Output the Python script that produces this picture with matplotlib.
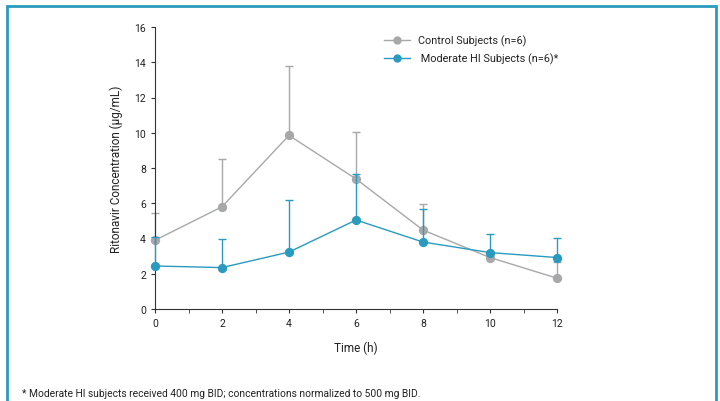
import numpy as np
import matplotlib.pyplot as plt
from matplotlib.patches import Rectangle
from matplotlib.lines import Line2D

plt.rcParams['font.family'] = ['Roboto', 'DejaVu Sans']

time = [0, 2, 4, 6, 8, 10, 12]
control = [3.9, 5.8, 9.85, 7.38, 4.48, 2.92, 1.75]
control_err = [1.55, 2.7, 3.95, 2.66, 1.45, 0.25, 0.92]
moderate = [2.44, 2.35, 3.23, 5.05, 3.8, 3.2, 2.92]
moderate_err = [1.65, 1.65, 2.98, 2.61, 1.9, 1.08, 1.11]

gray = "#a7a8aa"
teal = "#2a9bbf"

fig = plt.figure(figsize=(7.2, 4.02), dpi=100)
fig.patches.append(Rectangle((7/720, -0.01), 709/720, 1 - 7/402 + 0.01, transform=fig.transFigure,
                             fill=False, edgecolor=teal, linewidth=2))
ax = fig.add_axes([155/720, 1 - 310/402, 402/720, 282/402])

for y, err, c, z in [(control, control_err, gray, 2), (moderate, moderate_err, teal, 3)]:
    cont = ax.errorbar(time, y, yerr=[np.zeros(len(time)), err], color=c, lw=1,
                       marker="o", ms=5.7, capsize=3, elinewidth=1, capthick=1, zorder=z)
    for art in [cont.lines[0]] + list(cont.lines[1]) + list(cont.lines[2]):
        art.set_clip_on(False)

ax.set_xlim(0, 12)
ax.set_ylim(0, 16)
ax.set_xticks(range(0, 13, 2))
ax.set_xticks(range(1, 13, 2), minor=True)
ax.set_yticks(range(0, 17, 2))
ax.spines["top"].set_visible(False)
ax.spines["right"].set_visible(False)
ax.spines["left"].set_color("#333333")
ax.spines["bottom"].set_color("#333333")
ax.tick_params(labelsize=7.5, length=3, color="#333333", labelcolor="#222222")
ax.tick_params(which="minor", length=3, color="#333333")
ax.set_xlabel("Time (h)", fontsize=8.5, labelpad=9, color="#222222")
ax.set_ylabel("Ritonavir Concentration (µg/mL)", fontsize=8.5, labelpad=8, color="#222222")

handles = [Line2D([], [], color=gray, lw=1, marker="o", ms=5),
           Line2D([], [], color=teal, lw=1, marker="o", ms=5)]
labels = ["Control Subjects (n=6)", " Moderate HI Subjects (n=6)*"]
ax.legend(handles, labels, loc="upper left", bbox_to_anchor=(0.55, 1.0), frameon=False, fontsize=7.8,
          handlelength=2.4, borderaxespad=0.3, labelspacing=0.6, labelcolor="#222222")

fig.text(22/720, 1 - 394/402, "* Moderate HI subjects received 400 mg BID; concentrations normalized to 500 mg BID.",
         fontsize=7.4, va="center", color="#222222")

fig.savefig("out.png", dpi=100)
